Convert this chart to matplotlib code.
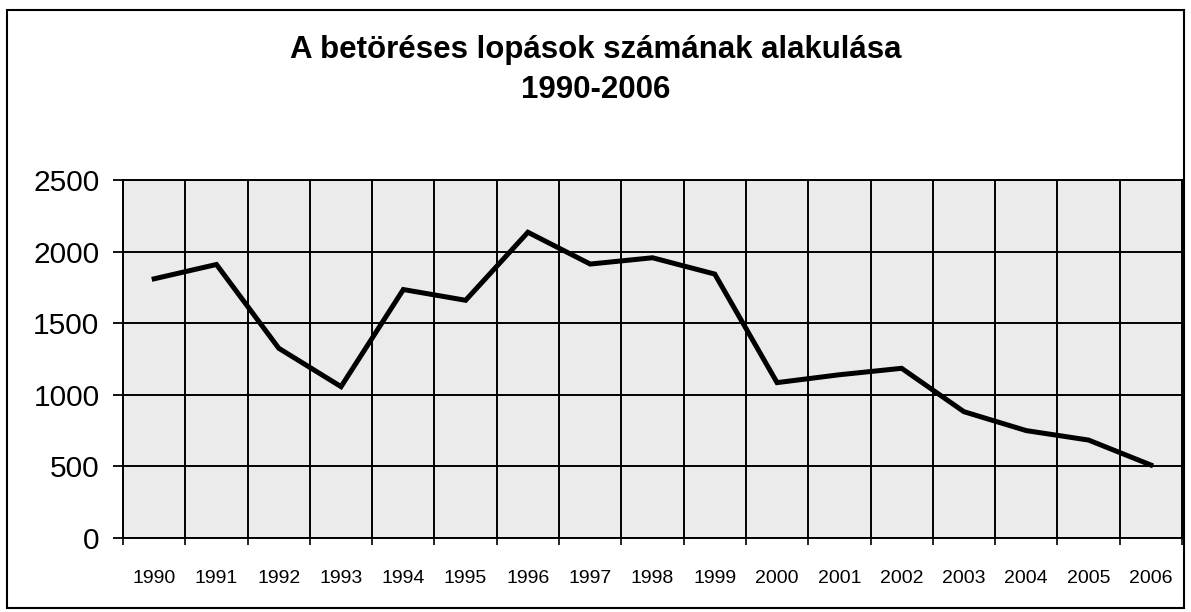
import matplotlib
matplotlib.use("Agg")
import matplotlib.pyplot as plt
from matplotlib.patches import Rectangle
import numpy as np

plt.rcParams['font.family'] = ['Liberation Sans', 'DejaVu Sans']

# data
years = ['1990', '1991', '1992', '1993', '1994', '1995', '1996', '1997', '1998',
         '1999', '2000', '2001', '2002', '2003', '2004', '2005', '2006']
burglaries = [1810, 1910, 1325, 1057, 1735, 1660, 2135, 1913, 1957,
              1843, 1085, 1140, 1185, 882, 750, 684, 510]
y_ticks = [0, 500, 1000, 1500, 2000, 2500]
title = 'A betöréses lopások számának alakulása\n1990-2006'

fig = plt.figure(figsize=(11.91, 6.12), dpi=100)
ax = fig.add_axes([0.1033, 0.1209, 0.8891, 0.585])

x = np.arange(len(years))
ax.set_facecolor('#ebebeb')
ax.plot(x, burglaries, color='black', linewidth=3.6, solid_joinstyle='miter', zorder=3)

ax.set_xlim(-0.5, len(years) - 0.5)
ax.set_ylim(0, 2500)

# category boundaries carry the vertical grid and the tick marks
ax.set_xticks(np.arange(-0.5, len(years), 1))
ax.set_xticklabels([])
ax.set_xticks(x, minor=True)
ax.set_xticklabels(years, minor=True, fontsize=14)
ax.tick_params(axis='x', which='major', length=5, width=1.2, color='black', direction='out')
ax.tick_params(axis='x', which='minor', length=0, pad=23)

ax.set_yticks(y_ticks)
ax.set_yticklabels([str(v) for v in y_ticks], fontsize=21.5)
ax.tick_params(axis='y', length=7, width=1.3, direction='out', pad=10)

ax.grid(True, which='major', color='black', linewidth=1.4)
ax.set_axisbelow(True)
for s in ax.spines.values():
    s.set_color('black')
    s.set_linewidth(1.4)

fig.text(0.5, 0.886, title, ha='center', va='center', fontsize=22.5,
         fontweight='bold', linespacing=1.45)

# outer chart border
fig.patches.append(Rectangle((0.006, 0.006), 0.988, 0.978, transform=fig.transFigure,
                             fill=False, edgecolor='black', linewidth=1.5))

fig.savefig('out.png', dpi=100)
